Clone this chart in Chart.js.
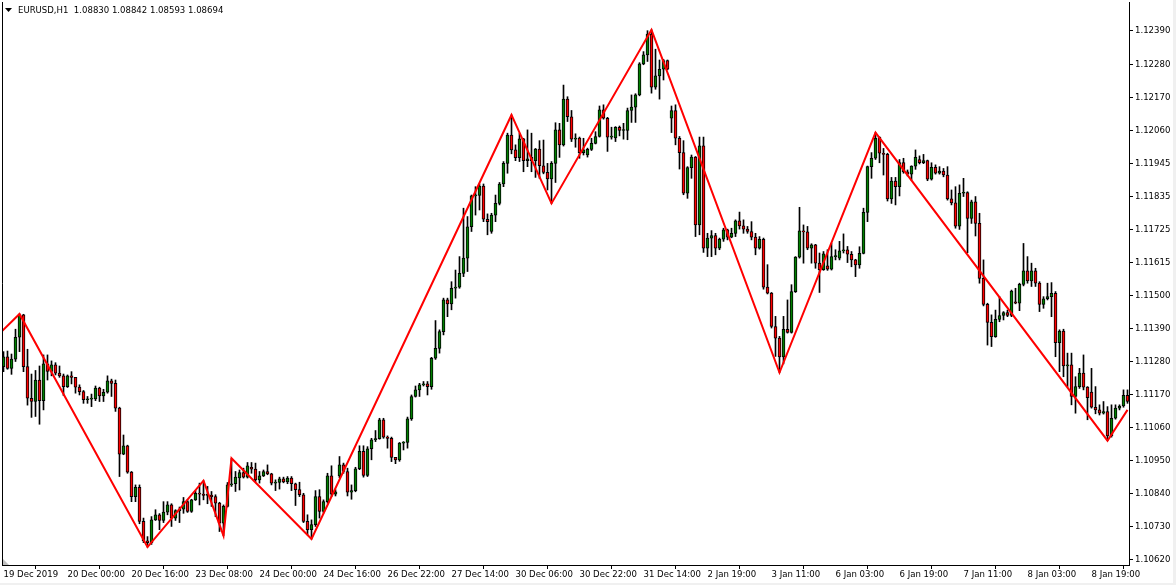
<!DOCTYPE html>
<html><head><meta charset="utf-8">
<script src="https://cdn.jsdelivr.net/npm/chart.js@4.4.1/dist/chart.umd.min.js"></script>
<style>html,body{margin:0;padding:0;background:#fff;overflow:hidden}canvas{display:block}</style>
</head><body>
<canvas id="c" width="1176" height="585"></canvas>
<script>
const symbolTitle = "EURUSD,H1  1.08830 1.08842 1.08593 1.08694";
const xLabels = ["19 Dec 2019","20 Dec 00:00","20 Dec 16:00","23 Dec 08:00","24 Dec 00:00","24 Dec 16:00","26 Dec 22:00","27 Dec 14:00","30 Dec 06:00","30 Dec 22:00","31 Dec 14:00","2 Jan 19:00","3 Jan 11:00","6 Jan 03:00","6 Jan 19:00","7 Jan 11:00","8 Jan 03:00","8 Jan 19:00"];
const yLabels = ["1.10620","1.10730","1.10840","1.10950","1.11060","1.11170","1.11280","1.11390","1.11500","1.11615","1.11725","1.11835","1.11945","1.12060","1.12170","1.12280","1.12390"];

const opens = [1.11267,1.11300,1.11261,1.11292,1.11365,1.11440,1.11267,1.11161,1.11150,1.11222,1.11153,1.11276,1.11251,1.11273,1.11245,1.11236,1.11200,1.11236,1.11231,1.11198,
1.11183,1.11156,1.11158,1.11159,1.11195,1.11169,1.11181,1.11219,1.11211,1.11128,1.10974,1.11002,1.10914,1.10832,1.10863,1.10749,1.10684,1.10678,1.10754,1.10771,
1.10752,1.10780,1.10804,1.10760,1.10785,1.10790,1.10815,1.10782,1.10821,1.10843,1.10840,1.10836,1.10837,1.10832,1.10810,1.10743,1.10799,1.10871,1.10875,1.10894,
1.10912,1.10897,1.10930,1.10924,1.10888,1.10901,1.10916,1.10908,1.10877,1.10879,1.10891,1.10881,1.10894,1.10875,1.10855,1.10838,1.10749,1.10721,1.10738,1.10832,
1.10782,1.10815,1.10901,1.10840,1.10901,1.10938,1.10916,1.10847,1.10852,1.10925,1.10983,1.10903,1.10992,1.11022,1.11026,1.11089,1.11031,1.11027,1.10963,1.10955,
1.11011,1.11013,1.11092,1.11167,1.11189,1.11206,1.11209,1.11200,1.11295,1.11328,1.11384,1.11490,1.11477,1.11529,1.11533,1.11579,1.11630,1.11735,1.11838,1.11840,
1.11871,1.11760,1.11719,1.11774,1.11813,1.11878,1.11947,1.12042,1.11992,1.11966,1.12029,1.11956,1.11967,1.11956,1.11995,1.11939,1.11917,1.11895,1.11947,1.12059,
1.12009,1.12162,1.12103,1.12028,1.12032,1.11983,1.11975,1.11994,1.12014,1.12037,1.12126,1.12098,1.12035,1.12032,1.12068,1.12057,1.12057,1.12124,1.12135,1.12176,
1.12280,1.12310,1.12380,1.12202,1.12240,1.12262,1.12291,1.12098,1.12124,1.12031,1.11983,1.11847,1.11933,1.11968,1.11741,1.12006,1.11663,1.11697,1.11705,1.11663,
1.11693,1.11725,1.11700,1.11713,1.11755,1.11738,1.11727,1.11719,1.11700,1.11663,1.11693,1.11533,1.11513,1.11401,1.11362,1.11299,1.11392,1.11381,1.11518,1.11633,
1.11721,1.11718,1.11663,1.11674,1.11613,1.11591,1.11604,1.11593,1.11635,1.11630,1.11654,1.11658,1.11643,1.11624,1.11607,1.11646,1.11783,1.11936,1.11964,1.12034,
1.11981,1.11977,1.11828,1.11888,1.11869,1.11950,1.11919,1.11911,1.11938,1.11960,1.11949,1.11956,1.11894,1.11934,1.11914,1.11921,1.11908,1.11828,1.11815,1.11737,
1.11847,1.11849,1.11763,1.11818,1.11746,1.11562,1.11475,1.11415,1.11367,1.11425,1.11438,1.11448,1.11438,1.11484,1.11479,1.11542,1.11587,1.11554,1.11587,1.11546,
1.11475,1.11494,1.11501,1.11512,1.11347,1.11386,1.11269,1.11273,1.11167,1.11200,1.11245,1.11198,1.11182,1.11131,1.11122,1.11111,1.11116,1.11035,1.11094,1.11128,
1.11135,1.11171];
const highs = [1.11317,1.11319,1.11309,1.11392,1.11443,1.11442,1.11325,1.11242,1.11254,1.11269,1.11306,1.11306,1.11286,1.11280,1.11269,1.11242,1.11239,1.11250,1.11231,1.11206,
1.11187,1.11167,1.11175,1.11202,1.11198,1.11191,1.11236,1.11225,1.11222,1.11131,1.11038,1.11004,1.10916,1.10871,1.10871,1.10760,1.10698,1.10765,1.10788,1.10775,
1.10815,1.10815,1.10808,1.10788,1.10797,1.10829,1.10821,1.10823,1.10852,1.10877,1.10885,1.10866,1.10849,1.10838,1.10813,1.10804,1.10879,1.10960,1.10916,1.10921,
1.10927,1.10946,1.10946,1.10944,1.10916,1.10921,1.10938,1.10910,1.10888,1.10897,1.10897,1.10899,1.10899,1.10877,1.10880,1.10843,1.10771,1.10754,1.10852,1.10855,
1.10821,1.10910,1.10935,1.10855,1.10966,1.10944,1.10927,1.10871,1.10930,1.11002,1.11002,1.10999,1.11027,1.11053,1.11094,1.11094,1.11035,1.11031,1.10963,1.11013,
1.11016,1.11098,1.11172,1.11202,1.11211,1.11217,1.11217,1.11298,1.11421,1.11390,1.11496,1.11496,1.11551,1.11590,1.11635,1.11797,1.11769,1.11841,1.11869,1.11878,
1.11878,1.11778,1.11780,1.11841,1.11883,1.11953,1.12048,1.12109,1.12009,1.12048,1.12031,1.12059,1.12048,1.11997,1.12023,1.12025,1.11947,1.11953,1.12083,1.12081,
1.12209,1.12170,1.12124,1.12046,1.12035,1.12031,1.11998,1.12031,1.12053,1.12139,1.12143,1.12101,1.12068,1.12070,1.12072,1.12081,1.12132,1.12176,1.12180,1.12284,
1.12321,1.12391,1.12394,1.12329,1.12293,1.12295,1.12293,1.12139,1.12143,1.12037,1.12023,1.11936,1.11975,1.11970,1.12035,1.12035,1.11713,1.11722,1.11713,1.11697,
1.11730,1.11727,1.11730,1.11758,1.11784,1.11758,1.11736,1.11752,1.11713,1.11702,1.11697,1.11608,1.11515,1.11435,1.11368,1.11435,1.11490,1.11541,1.11635,1.11800,
1.11741,1.11736,1.11678,1.11676,1.11647,1.11652,1.11658,1.11680,1.11658,1.11686,1.11711,1.11669,1.11652,1.11626,1.11668,1.11797,1.11938,1.11983,1.12050,1.12036,
1.11997,1.11981,1.11900,1.11900,1.11960,1.11964,1.11925,1.11939,1.11992,1.11972,1.11977,1.11958,1.11949,1.11942,1.11936,1.11930,1.11936,1.11858,1.11869,1.11875,
1.11897,1.11852,1.11824,1.11836,1.11780,1.11624,1.11479,1.11440,1.11456,1.11501,1.11451,1.11456,1.11523,1.11529,1.11546,1.11679,1.11635,1.11613,1.11596,1.11551,
1.11501,1.11546,1.11548,1.11518,1.11390,1.11392,1.11312,1.11312,1.11233,1.11261,1.11306,1.11200,1.11261,1.11200,1.11139,1.11150,1.11133,1.11139,1.11139,1.11139,
1.11189,1.11189];
const lows = [1.11250,1.11258,1.11241,1.11284,1.11317,1.11250,1.11138,1.11097,1.11100,1.11074,1.11122,1.11222,1.11236,1.11239,1.11231,1.11170,1.11197,1.11209,1.11178,1.11172,
1.11144,1.11144,1.11133,1.11153,1.11150,1.11150,1.11178,1.11167,1.11117,1.10899,1.10972,1.10910,1.10815,1.10815,1.10741,1.10678,1.10663,1.10672,1.10752,1.10721,
1.10745,1.10771,1.10732,1.10752,1.10745,1.10776,1.10779,1.10779,1.10819,1.10804,1.10821,1.10808,1.10799,1.10765,1.10715,1.10701,1.10797,1.10866,1.10849,1.10854,
1.10894,1.10894,1.10910,1.10882,1.10877,1.10899,1.10905,1.10871,1.10852,1.10857,1.10878,1.10875,1.10852,1.10802,1.10832,1.10745,1.10704,1.10690,1.10732,1.10760,
1.10777,1.10810,1.10832,1.10834,1.10895,1.10910,1.10834,1.10823,1.10848,1.10922,1.10897,1.10899,1.10955,1.11016,1.11024,1.11027,1.10994,1.10949,1.10942,1.10950,
1.10988,1.10994,1.11087,1.11165,1.11167,1.11202,1.11172,1.11191,1.11291,1.11312,1.11373,1.11434,1.11457,1.11496,1.11529,1.11568,1.11585,1.11719,1.11774,1.11791,
1.11752,1.11708,1.11713,1.11752,1.11808,1.11869,1.11914,1.11979,1.11956,1.11953,1.11919,1.11936,1.11919,1.11900,1.11897,1.11912,1.11858,1.11813,1.11883,1.11967,
1.12005,1.12087,1.12020,1.12001,1.11964,1.11975,1.11968,1.11990,1.12012,1.12035,1.12095,1.11987,1.12028,1.12020,1.12039,1.12028,1.12026,1.12084,1.12084,1.12173,
1.12277,1.12288,1.12182,1.12195,1.12162,1.12226,1.12260,1.12050,1.12009,1.11928,1.11842,1.11830,1.11897,1.11702,1.11708,1.11649,1.11635,1.11635,1.11641,1.11658,
1.11686,1.11691,1.11698,1.11702,1.11727,1.11713,1.11713,1.11691,1.11641,1.11660,1.11526,1.11510,1.11396,1.11301,1.11247,1.11276,1.11379,1.11379,1.11515,1.11630,
1.11613,1.11658,1.11613,1.11596,1.11515,1.11589,1.11589,1.11590,1.11624,1.11624,1.11647,1.11615,1.11601,1.11568,1.11596,1.11644,1.11752,1.11897,1.11960,1.11949,
1.11908,1.11821,1.11813,1.11808,1.11838,1.11914,1.11905,1.11891,1.11927,1.11945,1.11946,1.11889,1.11891,1.11911,1.11911,1.11902,1.11824,1.11808,1.11730,1.11726,
1.11836,1.11648,1.11746,1.11704,1.11546,1.11470,1.11339,1.11334,1.11365,1.11417,1.11423,1.11434,1.11434,1.11477,1.11454,1.11537,1.11546,1.11535,1.11535,1.11451,
1.11462,1.11490,1.11434,1.11300,1.11250,1.11233,1.11200,1.11139,1.11111,1.11194,1.11189,1.11089,1.11128,1.11109,1.11105,1.11108,1.11019,1.11031,1.11091,1.11122,
1.11131,1.11144];
const closes = [1.11300,1.11261,1.11292,1.11365,1.11440,1.11267,1.11161,1.11150,1.11222,1.11153,1.11276,1.11251,1.11273,1.11245,1.11236,1.11200,1.11236,1.11231,1.11198,1.11183,
1.11156,1.11158,1.11159,1.11195,1.11169,1.11181,1.11219,1.11211,1.11128,1.10974,1.11002,1.10914,1.10832,1.10863,1.10749,1.10684,1.10678,1.10754,1.10771,1.10752,
1.10780,1.10804,1.10760,1.10785,1.10790,1.10815,1.10782,1.10821,1.10843,1.10840,1.10836,1.10837,1.10832,1.10810,1.10743,1.10799,1.10871,1.10875,1.10897,1.10912,
1.10897,1.10935,1.10924,1.10888,1.10901,1.10916,1.10908,1.10877,1.10879,1.10891,1.10881,1.10894,1.10875,1.10855,1.10838,1.10749,1.10721,1.10738,1.10832,1.10782,
1.10815,1.10901,1.10840,1.10848,1.10938,1.10916,1.10847,1.10852,1.10925,1.10983,1.10903,1.10992,1.11022,1.11026,1.11089,1.11031,1.11027,1.10963,1.10955,1.11011,
1.11013,1.11092,1.11167,1.11189,1.11206,1.11209,1.11200,1.11295,1.11328,1.11384,1.11490,1.11477,1.11529,1.11533,1.11579,1.11630,1.11735,1.11838,1.11840,1.11871,
1.11760,1.11752,1.11774,1.11813,1.11878,1.11947,1.12042,1.11992,1.11966,1.12029,1.11956,1.11962,1.11956,1.11995,1.11939,1.11917,1.11895,1.11947,1.12059,1.12009,
1.12162,1.12103,1.12028,1.12032,1.11983,1.11992,1.11994,1.12014,1.12037,1.12126,1.12098,1.12035,1.12037,1.12068,1.12057,1.12057,1.12124,1.12135,1.12176,1.12280,
1.12310,1.12380,1.12202,1.12240,1.12262,1.12291,1.12262,1.12124,1.12031,1.11983,1.11847,1.11933,1.11968,1.11741,1.12006,1.11663,1.11697,1.11705,1.11663,1.11693,
1.11725,1.11700,1.11713,1.11755,1.11738,1.11727,1.11719,1.11700,1.11663,1.11693,1.11533,1.11513,1.11401,1.11362,1.11299,1.11392,1.11381,1.11518,1.11633,1.11721,
1.11718,1.11663,1.11674,1.11613,1.11591,1.11644,1.11593,1.11635,1.11638,1.11654,1.11658,1.11643,1.11624,1.11607,1.11646,1.11783,1.11936,1.11964,1.12031,1.11981,
1.11977,1.11828,1.11888,1.11869,1.11950,1.11919,1.11911,1.11938,1.11967,1.11949,1.11956,1.11894,1.11934,1.11914,1.11921,1.11908,1.11828,1.11815,1.11737,1.11847,
1.11849,1.11763,1.11818,1.11746,1.11562,1.11475,1.11415,1.11367,1.11425,1.11438,1.11448,1.11438,1.11520,1.11479,1.11542,1.11587,1.11554,1.11587,1.11546,1.11475,
1.11494,1.11501,1.11512,1.11347,1.11386,1.11269,1.11273,1.11167,1.11200,1.11245,1.11198,1.11163,1.11131,1.11122,1.11111,1.11116,1.11035,1.11094,1.11128,1.11135,
1.11171,1.11150];

const zigzagIdx   = [-4, 4, 36, 50, 55, 57, 77, 127, 137, 162, 194, 218, 276, 281];
const zigzagPrice = [1.11338, 1.11443, 1.10663, 1.10885, 1.10701, 1.10960, 1.10690, 1.12109, 1.11813, 1.12394, 1.11247, 1.12050, 1.11019, 1.11122];

const BARS_PER_LABEL = 16;
const FONT = "'DejaVu Sans Condensed','DejaVu Sans',sans-serif";

const wickData = opens.map((o, i) => ({x: i, y: [lows[i], highs[i]]}));
const bodyData = opens.map((o, i) => ({x: i, y: [o, closes[i]]}));
const bodyColors = opens.map((o, i) => closes[i] >= o ? '#008000' : '#ff0000');
const zigzagData = zigzagIdx.map((x, k) => ({x, y: zigzagPrice[k]}));

const yMin = 1.10603, yMax = 1.12487;
const yStep = (parseFloat(yLabels[yLabels.length-1]) - parseFloat(yLabels[0])) / (yLabels.length - 1);

const decor = {
  id: 'decor',
  beforeDraw(chart) {
    const c = chart.ctx;
    c.save();
    c.fillStyle = '#ffffff';
    c.fillRect(0, 0, chart.width, chart.height);
    c.fillStyle = '#f0f0f0';
    c.fillRect(1173, 0, 3, chart.height);
    c.fillRect(0, 583, chart.width, 2);
    c.restore();
  },
  afterDraw(chart) {
    const c = chart.ctx, a = chart.chartArea;
    c.save();
    c.strokeStyle = '#000';
    c.lineWidth = 1;
    c.beginPath();
    c.moveTo(a.left + 0.5, a.top);
    c.lineTo(a.left + 0.5, a.bottom + 0.5);
    c.lineTo(a.right + 0.5, a.bottom + 0.5);
    c.lineTo(a.right + 0.5, a.top);
    c.stroke();
    // header
    c.fillStyle = '#000';
    c.beginPath();
    c.moveTo(5, 8); c.lineTo(12, 8); c.lineTo(8.5, 12); c.closePath(); c.fill();
    c.font = '9.5px ' + FONT;
    c.textBaseline = 'middle';
    c.fillText(symbolTitle, 18, 10.5);
    // shift marker
    c.fillStyle = '#c0c0c0';
    c.beginPath();
    c.moveTo(a.left + 1, a.bottom - 6); c.lineTo(a.left + 1, a.bottom); c.lineTo(a.left + 7, a.bottom); c.closePath(); c.fill();
    c.restore();
  }
};

new Chart(document.getElementById('c'), {
  data: {
    datasets: [
      { type: 'line', data: zigzagData, borderColor: '#ff0000', borderWidth: 2, pointRadius: 0, tension: 0, fill: false, order: 0 },
      { type: 'bar', data: bodyData, backgroundColor: bodyColors, borderColor: '#000', borderWidth: 1, borderSkipped: false, barThickness: 3, minBarLength: 1, grouped: false, order: 1 },
      { type: 'bar', data: wickData, backgroundColor: '#000', borderWidth: 0, barThickness: 1, grouped: false, order: 2 }
    ]
  },
  options: {
    responsive: false,
    animation: false,
    events: [],
    layout: { padding: { left: 2, top: 2, right: 0, bottom: 0 } },
    plugins: { legend: { display: false }, tooltip: { enabled: false } },
    scales: {
      x: {
        type: 'linear',
        min: -0.375, max: 281.375,
        offset: false,
        afterFit(s) { s.height = 20; s.paddingLeft = 0; s.paddingRight = 0; },
        afterBuildTicks(s) { s.ticks = xLabels.map((l, k) => ({ value: k * BARS_PER_LABEL })); },
        grid: { drawOnChartArea: false, drawTicks: true, tickLength: 4, color: '#000' },
        border: { display: true, color: '#000' },
        ticks: { autoSkip: false, maxRotation: 0, align: 'start', padding: 0, color: '#000', font: { family: FONT, size: 9.5 },
                 callback: (v, i) => xLabels[i] }
      },
      y: {
        type: 'linear', position: 'right',
        min: yMin, max: yMax,
        afterFit(s) { s.width = 47; s.paddingTop = 0; s.paddingBottom = 0; },
        afterBuildTicks(s) { s.ticks = yLabels.map((l, k) => ({ value: parseFloat(yLabels[0]) + k * yStep })); },
        grid: { drawOnChartArea: false, drawTicks: true, tickLength: 4, color: '#000' },
        border: { display: true, color: '#000' },
        ticks: { autoSkip: false, padding: 2, color: '#000', font: { family: FONT, size: 9.5 },
                 callback: (v, i) => yLabels[i] }
      }
    }
  },
  plugins: [decor]
});
</script>
</body></html>
